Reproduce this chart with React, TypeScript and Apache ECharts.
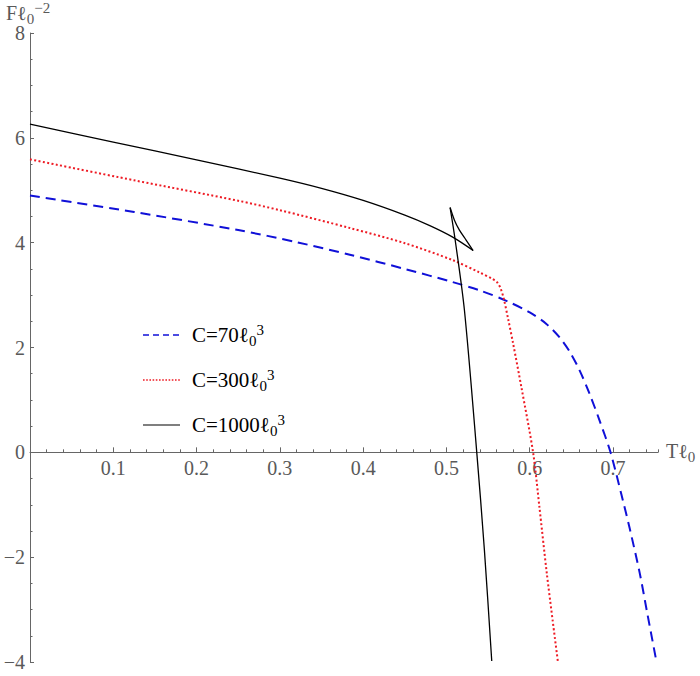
import React, { useEffect, useRef } from 'react';
import * as echarts from 'echarts';

// ---- data ----
const xMax = 0.754;
const yMin = -4;
const yMax = 8;

const c70T = [0, 0.125, 0.25, 0.32, 0.384, 0.452, 0.507, 0.54, 0.572, 0.6, 0.62, 0.636, 0.648, 0.66, 0.672, 0.684, 0.697, 0.71, 0.72, 0.732, 0.741, 0.752];
const c70F = [4.9, 4.585, 4.24, 4.01, 3.77, 3.49, 3.25, 3.09, 2.89, 2.67, 2.45, 2.19, 1.92, 1.56, 1.11, 0.6, 0, -0.8, -1.45, -2.3, -3.06, -3.98];

const c300T = [0, 0.125, 0.25, 0.3, 0.384, 0.45, 0.507, 0.54, 0.555, 0.561, 0.565, 0.569, 0.574, 0.58, 0.59, 0.604, 0.6116, 0.6205, 0.6337];
const c300F = [5.59, 5.19, 4.8, 4.62, 4.28, 3.99, 3.67, 3.43, 3.31, 3.24, 3.13, 2.92, 2.55, 2.08, 1.24, 0, -1.04, -2.31, -3.98];

// C = 1000: swallowtail, three branches
const c1000aT = [0, 0.1, 0.2, 0.3, 0.35, 0.4, 0.45, 0.48, 0.507, 0.532];
const c1000aF = [6.26, 5.92, 5.58, 5.23, 5.035, 4.805, 4.525, 4.325, 4.11, 3.85];
const c1000bT = [0.532, 0.5236, 0.5156, 0.5096, 0.5044];
const c1000bF = [3.85, 4.05, 4.24, 4.43, 4.67];
const c1000cT = [0.5044, 0.5104, 0.5216, 0.5364, 0.5456, 0.5544];
const c1000cF = [4.67, 4.06, 2.71, 0, -1.87, -3.98];

const legendLabels = ['C=70', 'C=300', 'C=1000'];

const SERIF = '"Liberation Serif", "Times New Roman", serif';
const GRAY = '#595959';
const AXIS = '#666';

const GRID = { left: 30, right: 42, top: 33, bottom: 14 };
const H = 676;

const pairs = (t: number[], f: number[]) => t.map((v, i) => [v, f[i]]);

function richStyle(color: string, size: number, sub: number) {
  return {
    m: { fontFamily: SERIF, fontSize: size, lineHeight: 26, fill: color, color },
    s: { fontFamily: SERIF, fontSize: sub, lineHeight: 12, verticalAlign: 'bottom', fill: color, color },
    p: { fontFamily: SERIF, fontSize: sub, lineHeight: 16, verticalAlign: 'top', fill: color, color },
  };
}

export default function App() {
  const ref = useRef<HTMLDivElement>(null);
  useEffect(() => {
    document.body.style.margin = '0';
    const chart = echarts.init(ref.current!, null, { renderer: 'svg' });

    // x axis sits on F = 0: shift it up from the grid bottom by the zero's distance
    const plotH = H - GRID.top - GRID.bottom;
    const zeroFromBottom = (plotH * (0 - yMin)) / (yMax - yMin);
    const xOffset = -zeroFromBottom;

    const mk = (t: number[], f: number[], color: string, width: number, type: any, z: number) => ({
      type: 'line',
      data: pairs(t, f),
      showSymbol: false,
      symbol: 'none',
      smooth: 0.3,
      lineStyle: { color, width, type },
      z,
      silent: true,
    });

    const legendColors = ['#1010d8', '#ee1b24', '#000'];
    const legendDash: any[] = [[6, 4], [1.6, 1.6], null];
    const legendWidth = [1.6, 1.6, 1.2];
    const rowsY = [335, 380, 425];

    const legendEls: any[] = [];
    legendLabels.forEach((lab, i) => {
      legendEls.push({
        type: 'line',
        shape: { x1: 143, y1: rowsY[i], x2: 180, y2: rowsY[i] },
        style: { stroke: legendColors[i], lineWidth: legendWidth[i], lineDash: legendDash[i] || undefined },
        silent: true,
      });
      legendEls.push({
        type: 'text',
        x: 192,
        y: rowsY[i],
        style: {
          text: `{m|${lab}ℓ}{s|0}{p|3}`,
          rich: richStyle('#000', 21, 15),
          verticalAlign: 'middle',
          align: 'left',
        },
        silent: true,
      });
    });

    chart.setOption({
      animation: false,
      grid: { ...GRID, containLabel: false, outerBoundsMode: 'none' },
      xAxis: [
        {
          type: 'value',
          min: 0,
          max: xMax,
          interval: 0.1,
          position: 'bottom',
          offset: xOffset,
          axisLine: { show: true, onZero: false, lineStyle: { color: AXIS, width: 1 } },
          axisTick: { show: true, inside: true, length: 5, lineStyle: { color: AXIS } },
          axisLabel: {
            color: GRAY,
            fontFamily: SERIF,
            fontSize: 20,
            margin: 6,
            showMaxLabel: false,
            formatter: (v: number) => {
              const k = Math.round(v * 10);
              if (k <= 0 || Math.abs(v * 10 - k) > 1e-6) return '';
              return (k / 10).toFixed(1);
            },
          },
          splitLine: { show: false },
        },
        {
          type: 'value',
          min: 0,
          max: xMax,
          interval: 0.02,
          position: 'bottom',
          offset: xOffset,
          axisLine: { show: false, onZero: false },
          axisTick: { show: true, inside: true, length: 3, lineStyle: { color: AXIS } },
          axisLabel: { show: false },
          splitLine: { show: false },
        },
      ],
      yAxis: {
        type: 'value',
        min: yMin,
        max: yMax,
        interval: 2,
        axisLine: { show: true, onZero: false, lineStyle: { color: AXIS, width: 1 } },
        axisTick: { show: true, inside: true, length: 4, lineStyle: { color: AXIS } },
        minorTick: { show: true, splitNumber: 4, length: 2.5, lineStyle: { color: AXIS } },
        axisLabel: {
          color: GRAY,
          fontFamily: SERIF,
          fontSize: 20,
          margin: 5,
          formatter: (v: number) => (v < 0 ? '\u2212' + String(-v) : String(v)),
        },
        splitLine: { show: false },
      },
      series: [
        mk(c70T, c70F, '#1010d8', 2, [10, 6], 3),
        mk(c300T, c300F, '#ee1b24', 2, [2, 2.4], 4),
        mk(c1000aT, c1000aF, '#000', 1.3, 'solid', 5),
        mk(c1000bT, c1000bF, '#000', 1.3, 'solid', 5),
        mk(c1000cT, c1000cF, '#000', 1.3, 'solid', 5),
      ],
      graphic: {
        elements: [
          {
            type: 'text',
            x: 6,
            y: 0,
            style: {
              text: '{m|Fℓ}{s|0}{p|\u22122}',
              rich: richStyle(GRAY, 20, 15),
              verticalAlign: 'top',
              align: 'left',
            },
            silent: true,
          },
          {
            type: 'text',
            x: 666,
            y: 451,
            style: {
              text: '{m|Tℓ}{s|0}',
              rich: richStyle(GRAY, 20, 15),
              verticalAlign: 'middle',
              align: 'left',
            },
            silent: true,
          },
          ...legendEls,
        ],
      },
    });
    return () => chart.dispose();
  }, []);
  return <div ref={ref} style={{ width: 700, height: 676 }} />;
}
